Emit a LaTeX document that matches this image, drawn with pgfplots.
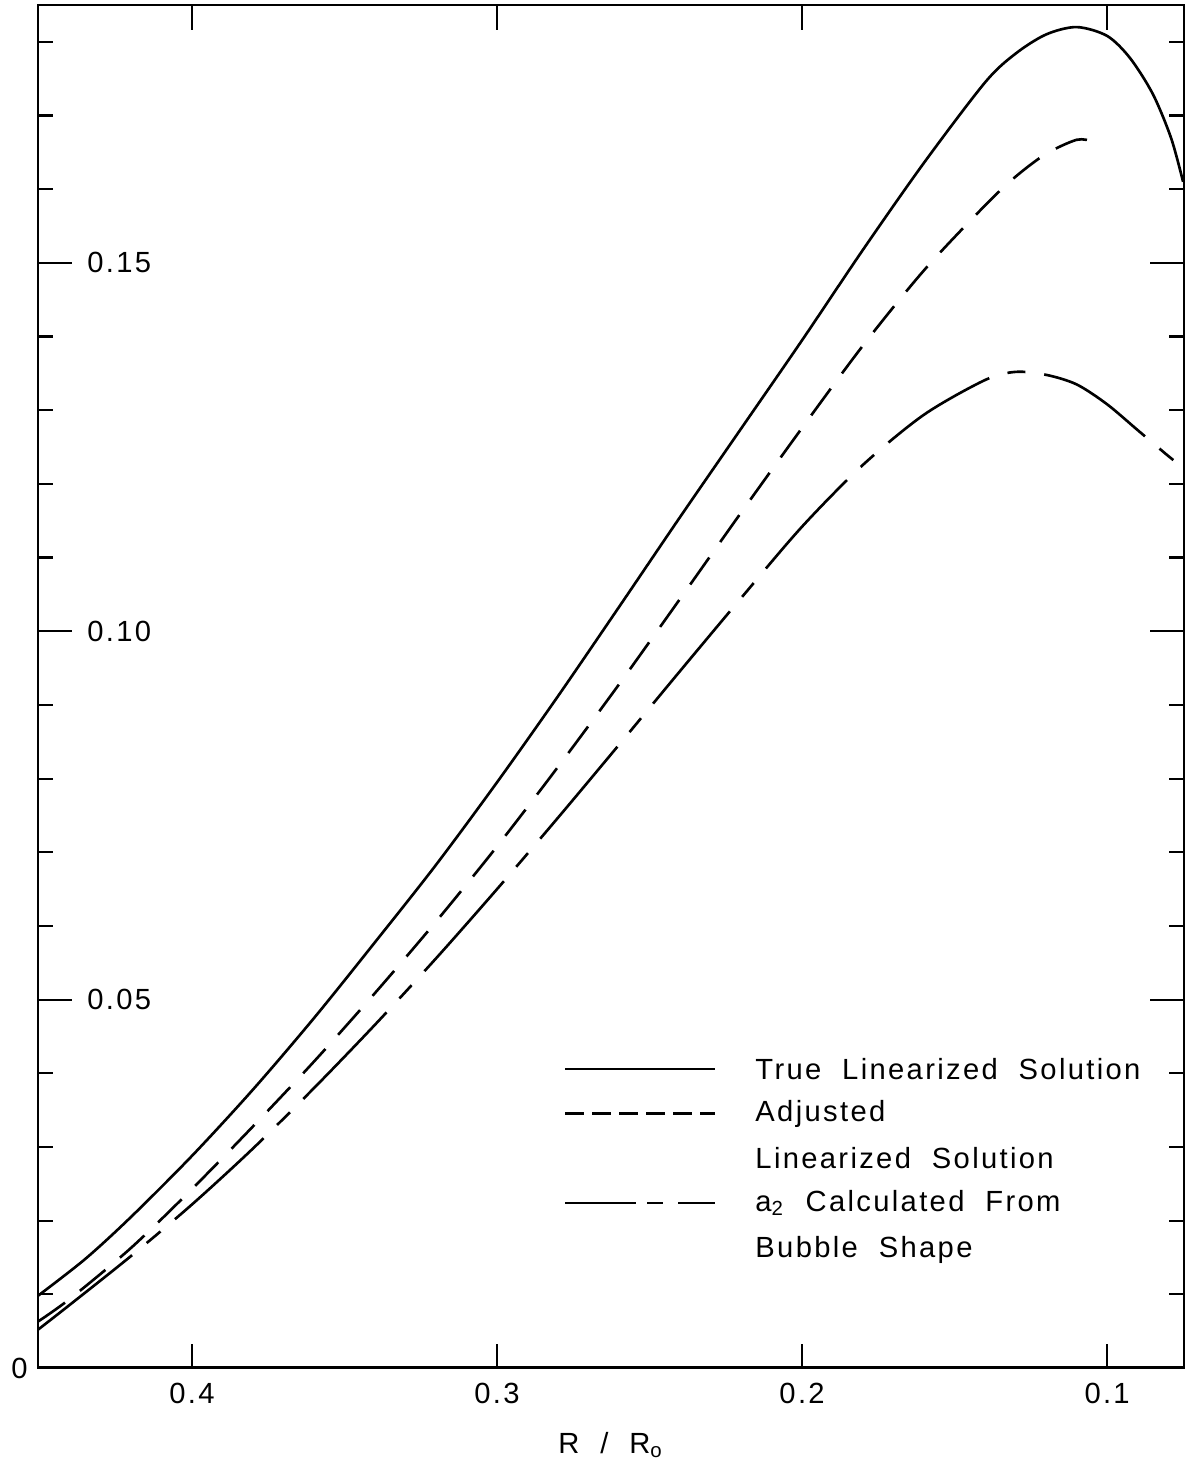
\documentclass[border=0pt]{standalone}
\usepackage{fontspec}
\setmainfont{Liberation Sans}
\newfontfamily\lab{Liberation Sans}[LetterSpace=8,WordSpace=2]
\usepackage{pgfplots}
\pgfplotsset{compat=1.18}

\begin{document}
\fontsize{8.3}{10}\selectfont
\begin{tikzpicture}
\begin{axis}[
  scale only axis, width=114.6mm, height=136.3mm,
  x dir=reverse, xmin=0.0748, xmax=0.4505,
  ymin=0, ymax=0.185,
  axis line style={line width=0.6pt},
  tick align=inside,
  tick style={black, line width=0.6pt},
  tick label style={font=\lab},
  xtick=\empty,
  extra x ticks={0.1,0.2,0.3,0.4},
  extra x tick labels={0.1,0.2,0.3,0.4},
  extra x tick style={tick style={draw=none}, xticklabel style={yshift=-0.5mm}},
  ytick={0.05,0.1,0.15},
  yticklabels={0.05,0.10,0.15},
  minor ytick={0.01,0.02,0.03,0.04,0.06,0.07,0.08,0.09,0.11,0.12,0.13,0.14,0.16,0.17,0.18},
  major tick length=3.4mm, minor tick length=1.5mm,
  yticklabel style={anchor=west, xshift=3.9mm},
  extra y ticks={0}, extra y tick labels={0},
  extra y tick style={yticklabel style={anchor=east, xshift=-3.9mm}},
  xlabel={\lab R / R\textsubscript{o}},
  xlabel style={at={(axis description cs:0.5,0)}, anchor=center, yshift=-7.7mm},
]
% true linearized solution
\addplot[line width=0.75pt, smooth] coordinates {
  (0.4505,0.0098) (0.435,0.0148) (0.42,0.0205) (0.40,0.0288) (0.38,0.0378)
  (0.36,0.0475) (0.34,0.0578) (0.32,0.0683) (0.30,0.0795) (0.28,0.0912)
  (0.26,0.1033) (0.24,0.1155) (0.22,0.1275) (0.20,0.1395) (0.18,0.1518)
  (0.16,0.1636) (0.14,0.1745) (0.13,0.1784) (0.12,0.1810) (0.11,0.1820)
  (0.10,0.1808) (0.0925,0.1778) (0.085,0.1729) (0.079,0.1669) (0.0751,0.161)
};
% adjusted linearized solution
\addplot[line width=0.75pt, smooth, dash pattern=on 3.3mm off 1.9mm] coordinates {
  (0.4505,0.0063) (0.44,0.0094) (0.42,0.0163) (0.40,0.0243) (0.38,0.0328)
  (0.36,0.0416) (0.34,0.0509) (0.32,0.0606) (0.30,0.0708) (0.28,0.0816)
  (0.26,0.0928) (0.24,0.1044) (0.22,0.1161) (0.20,0.1276) (0.18,0.1388)
  (0.16,0.1490) (0.14,0.1578) (0.13,0.1617) (0.12,0.1648) (0.11,0.1667)
  (0.1049,0.1665)
};
% a2 from bubble shape
\addplot[line width=0.75pt, smooth, dash pattern=on 12mm off 1.9mm on 1.8mm off 1.9mm] coordinates {
  (0.4505,0.0052) (0.44,0.0086) (0.42,0.0152) (0.40,0.0222) (0.38,0.0298)
  (0.36,0.0380) (0.34,0.0466) (0.32,0.0556) (0.30,0.0650) (0.28,0.0747)
  (0.26,0.0846) (0.24,0.0946) (0.22,0.1045) (0.20,0.1142) (0.18,0.1226)
  (0.16,0.1294) (0.14,0.1341) (0.13,0.1352) (0.12,0.1348) (0.11,0.1335)
  (0.10,0.1308) (0.09,0.1273) (0.08,0.1238) (0.0754,0.1223)
};
\draw[line width=1.4pt] (rel axis cs:0,0) -- (rel axis cs:1,0);
% x ticks, shorter than the y ones
\pgfplotsinvokeforeach{0.1,0.2,0.3,0.4}{
  \draw[line width=0.6pt] (axis cs:#1,0) -- ++(0pt,2.4mm);
  \draw[line width=0.6pt] (axis cs:#1,0.185) -- ++(0pt,-2.5mm);
}
% legend
\draw[line width=0.75pt] (axis cs:0.2777,0.0406) -- (axis cs:0.2285,0.0406);
\draw[line width=0.75pt, dash pattern=on 1.9mm off 0.8mm] (axis cs:0.2777,0.0345) -- (axis cs:0.2285,0.0345);
\draw[line width=0.75pt, dash pattern=on 7.1mm off 1.1mm on 1.6mm off 1.5mm] (axis cs:0.2777,0.0224) -- (axis cs:0.2285,0.0224);
\node[anchor=west, font=\lab] at (axis cs:0.2187,0.0406) {True Linearized Solution};
\node[anchor=west, font=\lab] at (axis cs:0.2187,0.0345) {Adjusted};
\node[anchor=west, font=\lab] at (axis cs:0.2187,0.0285) {Linearized Solution};
\node[anchor=west, font=\lab] at (axis cs:0.2187,0.0224) {a\textsubscript{2} Calculated From};
\node[anchor=west, font=\lab] at (axis cs:0.2187,0.0160) {Bubble Shape};
\end{axis}
\pgfresetboundingbox
\path ([xshift=-3.8mm,yshift=-9.3mm]current axis.south west) rectangle ([xshift=1mm,yshift=0.5mm]current axis.north east);
\end{tikzpicture}
\end{document}
